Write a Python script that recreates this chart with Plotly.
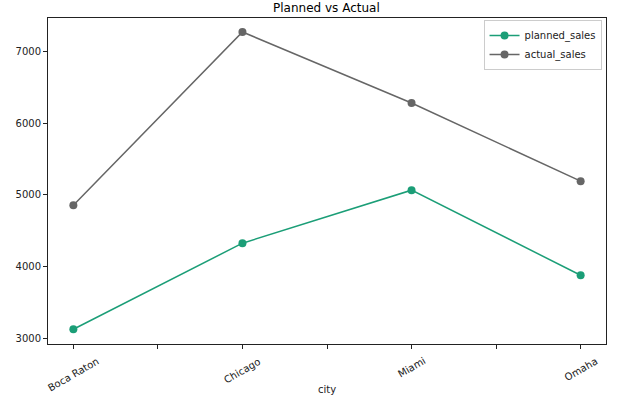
import plotly.graph_objects as go

cities = ["Boca Raton", "Chicago", "Miami", "Omaha"]
planned_sales = [3126, 4326, 5065, 3879]
actual_sales = [4856, 7271, 6280, 5191]
y_ticks = [3000, 4000, 5000, 6000, 7000]

x_idx = list(range(len(cities)))
tickvals = [i * 0.5 for i in range(2 * len(cities) - 1)]

font = "DejaVu Sans"
fig = go.Figure()
fig.add_trace(go.Scatter(x=x_idx, y=planned_sales, name="planned_sales", mode="lines+markers",
                         line=dict(color="#1b9e77", width=1.5), marker=dict(size=8, color="#1b9e77")))
fig.add_trace(go.Scatter(x=x_idx, y=actual_sales, name="actual_sales", mode="lines+markers",
                         line=dict(color="#666666", width=1.5), marker=dict(size=8, color="#666666")))

for i, c in enumerate(cities):
    fig.add_annotation(x=i, y=0, xref="x", yref="paper", text=c, textangle=-30, showarrow=False,
                       xanchor="center", yanchor="top", yshift=-9,
                       font=dict(family=font, size=10, color="#222222"))
fig.add_annotation(x=0.5, y=0, xref="paper", yref="paper", text="city", showarrow=False,
                   xanchor="center", yanchor="top", yshift=-38,
                   font=dict(family=font, size=10, color="#222222"))

fig.update_layout(
    width=635, height=395,
    margin=dict(l=48, r=29, t=18, b=51, autoexpand=False),
    paper_bgcolor="white", plot_bgcolor="white",
    font=dict(family=font, size=10, color="#222222"),
    title=dict(text="Planned vs Actual", x=0.514, xanchor="center", y=0.99, yanchor="top",
               font=dict(family=font, size=12, color="black")),
    showlegend=True,
    legend=dict(x=0.992, y=0.994, xanchor="right", yanchor="top", bgcolor="rgba(255,255,255,0.8)",
                bordercolor="#cccccc", borderwidth=1, font=dict(size=10, family=font),
                tracegroupgap=0, itemwidth=30),
)
fig.update_xaxes(range=[-0.15, 3.15], tickmode="array", tickvals=tickvals, showticklabels=False,
                 ticks="outside", ticklen=4, tickcolor="#222222", automargin=False,
                 showgrid=False, zeroline=False, showline=True, linecolor="#222222", linewidth=1,
                 mirror=True)
fig.update_yaxes(range=[2920, 7466], tickmode="array", tickvals=y_ticks, automargin=False,
                 ticks="outside", ticklen=4, tickcolor="#222222",
                 showgrid=False, zeroline=False, showline=True, linecolor="#222222", linewidth=1,
                 mirror=True)

fig.write_html("out.html", config={"displayModeBar": False},
               post_script="document.body.style.margin='0';document.body.style.overflow='hidden';")
